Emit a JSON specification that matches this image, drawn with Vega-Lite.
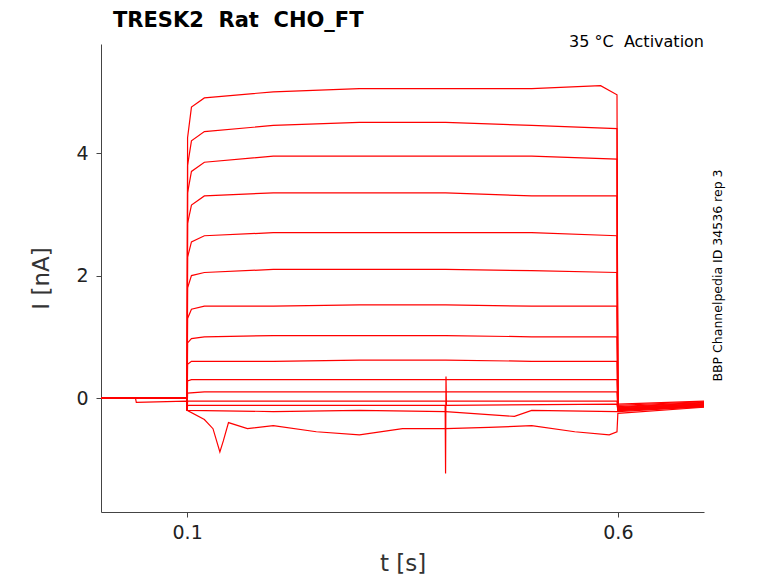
{
"$schema":"https://vega.github.io/schema/vega-lite/v6.json",
"width":603,"height":468,
"autosize":{"type":"none"},
"padding":{"left":101,"top":44,"right":74,"bottom":71},
"background":"white",
"config":{"view":{"stroke":null},"font":"DejaVu Sans"},
"datasets":{"d":[
{"s":1,"t":0,"i":0},{"s":1,"t":0.0995,"i":0},{"s":1,"t":0.1,"i":-0.2},{"s":1,"t":0.1005,"i":4.25},{"s":1,"t":0.105,"i":4.75},{"s":1,"t":0.12,"i":4.9},{"s":1,"t":0.2,"i":5.0},{"s":1,"t":0.3,"i":5.05},{"s":1,"t":0.4,"i":5.05},{"s":1,"t":0.5,"i":5.05},{"s":1,"t":0.58,"i":5.1},{"s":1,"t":0.599,"i":4.95},{"s":1,"t":0.6,"i":-0.1},{"s":1,"t":0.7,"i":-0.05},
{"s":2,"t":0,"i":0},{"s":2,"t":0.0995,"i":0},{"s":2,"t":0.1,"i":-0.2},{"s":2,"t":0.1005,"i":3.8},{"s":2,"t":0.105,"i":4.2},{"s":2,"t":0.12,"i":4.35},{"s":2,"t":0.2,"i":4.45},{"s":2,"t":0.3,"i":4.5},{"s":2,"t":0.4,"i":4.5},{"s":2,"t":0.5,"i":4.45},{"s":2,"t":0.599,"i":4.4},{"s":2,"t":0.6,"i":-0.12},{"s":2,"t":0.7,"i":-0.06},
{"s":3,"t":0,"i":0},{"s":3,"t":0.0995,"i":0},{"s":3,"t":0.1,"i":-0.2},{"s":3,"t":0.1005,"i":3.35},{"s":3,"t":0.105,"i":3.7},{"s":3,"t":0.12,"i":3.85},{"s":3,"t":0.2,"i":3.95},{"s":3,"t":0.3,"i":3.95},{"s":3,"t":0.4,"i":3.95},{"s":3,"t":0.5,"i":3.95},{"s":3,"t":0.599,"i":3.9},{"s":3,"t":0.6,"i":-0.14},{"s":3,"t":0.7,"i":-0.07},
{"s":4,"t":0,"i":0},{"s":4,"t":0.0995,"i":0},{"s":4,"t":0.1,"i":-0.2},{"s":4,"t":0.1005,"i":2.85},{"s":4,"t":0.105,"i":3.15},{"s":4,"t":0.12,"i":3.3},{"s":4,"t":0.2,"i":3.35},{"s":4,"t":0.3,"i":3.35},{"s":4,"t":0.4,"i":3.35},{"s":4,"t":0.5,"i":3.3},{"s":4,"t":0.599,"i":3.3},{"s":4,"t":0.6,"i":-0.15},{"s":4,"t":0.7,"i":-0.08},
{"s":5,"t":0,"i":0},{"s":5,"t":0.0995,"i":0},{"s":5,"t":0.1,"i":-0.2},{"s":5,"t":0.1005,"i":2.3},{"s":5,"t":0.105,"i":2.55},{"s":5,"t":0.12,"i":2.65},{"s":5,"t":0.2,"i":2.7},{"s":5,"t":0.3,"i":2.7},{"s":5,"t":0.4,"i":2.7},{"s":5,"t":0.5,"i":2.7},{"s":5,"t":0.599,"i":2.65},{"s":5,"t":0.6,"i":-0.16},{"s":5,"t":0.7,"i":-0.09},
{"s":6,"t":0,"i":0},{"s":6,"t":0.0995,"i":0},{"s":6,"t":0.1,"i":-0.2},{"s":6,"t":0.1005,"i":1.8},{"s":6,"t":0.105,"i":2.0},{"s":6,"t":0.12,"i":2.05},{"s":6,"t":0.2,"i":2.1},{"s":6,"t":0.3,"i":2.1},{"s":6,"t":0.4,"i":2.1},{"s":6,"t":0.5,"i":2.08},{"s":6,"t":0.599,"i":2.05},{"s":6,"t":0.6,"i":-0.17},{"s":6,"t":0.7,"i":-0.1},
{"s":7,"t":0,"i":0},{"s":7,"t":0.0995,"i":0},{"s":7,"t":0.1,"i":-0.2},{"s":7,"t":0.1005,"i":1.3},{"s":7,"t":0.105,"i":1.45},{"s":7,"t":0.12,"i":1.5},{"s":7,"t":0.2,"i":1.5},{"s":7,"t":0.3,"i":1.52},{"s":7,"t":0.4,"i":1.52},{"s":7,"t":0.5,"i":1.5},{"s":7,"t":0.599,"i":1.5},{"s":7,"t":0.6,"i":-0.18},{"s":7,"t":0.7,"i":-0.1},
{"s":8,"t":0,"i":0},{"s":8,"t":0.0995,"i":0},{"s":8,"t":0.1,"i":-0.2},{"s":8,"t":0.1005,"i":0.9},{"s":8,"t":0.105,"i":0.97},{"s":8,"t":0.12,"i":1.0},{"s":8,"t":0.2,"i":1.02},{"s":8,"t":0.3,"i":1.02},{"s":8,"t":0.4,"i":1.02},{"s":8,"t":0.5,"i":1.0},{"s":8,"t":0.599,"i":1.0},{"s":8,"t":0.6,"i":-0.18},{"s":8,"t":0.7,"i":-0.11},
{"s":9,"t":0,"i":0},{"s":9,"t":0.0995,"i":0},{"s":9,"t":0.1,"i":-0.2},{"s":9,"t":0.1005,"i":0.55},{"s":9,"t":0.105,"i":0.6},{"s":9,"t":0.12,"i":0.6},{"s":9,"t":0.2,"i":0.6},{"s":9,"t":0.3,"i":0.62},{"s":9,"t":0.4,"i":0.62},{"s":9,"t":0.5,"i":0.6},{"s":9,"t":0.599,"i":0.6},{"s":9,"t":0.6,"i":-0.19},{"s":9,"t":0.7,"i":-0.12},
{"s":10,"t":0,"i":0},{"s":10,"t":0.0995,"i":0},{"s":10,"t":0.1,"i":-0.2},{"s":10,"t":0.1005,"i":0.28},{"s":10,"t":0.105,"i":0.3},{"s":10,"t":0.12,"i":0.3},{"s":10,"t":0.2,"i":0.3},{"s":10,"t":0.3,"i":0.3},{"s":10,"t":0.4,"i":0.3},{"s":10,"t":0.5,"i":0.3},{"s":10,"t":0.599,"i":0.3},{"s":10,"t":0.6,"i":-0.19},{"s":10,"t":0.7,"i":-0.12},
{"s":11,"t":0,"i":0},{"s":11,"t":0.0995,"i":0},{"s":11,"t":0.1,"i":-0.2},{"s":11,"t":0.1005,"i":0.08},{"s":11,"t":0.12,"i":0.1},{"s":11,"t":0.3,"i":0.1},{"s":11,"t":0.5,"i":0.1},{"s":11,"t":0.599,"i":0.1},{"s":11,"t":0.6,"i":-0.2},{"s":11,"t":0.7,"i":-0.13},
{"s":12,"t":0,"i":0},{"s":12,"t":0.0995,"i":0},{"s":12,"t":0.1,"i":-0.2},{"s":12,"t":0.1005,"i":-0.05},{"s":12,"t":0.2,"i":-0.05},{"s":12,"t":0.4,"i":-0.05},{"s":12,"t":0.599,"i":-0.05},{"s":12,"t":0.6,"i":-0.2},{"s":12,"t":0.7,"i":-0.13},
{"s":13,"t":0,"i":0},{"s":13,"t":0.0995,"i":0},{"s":13,"t":0.1,"i":-0.2},{"s":13,"t":0.1005,"i":-0.12},{"s":13,"t":0.2,"i":-0.12},{"s":13,"t":0.3995,"i":-0.12},{"s":13,"t":0.4,"i":-1.23},{"s":13,"t":0.4005,"i":0.35},{"s":13,"t":0.401,"i":-0.12},{"s":13,"t":0.599,"i":-0.1},{"s":13,"t":0.6,"i":-0.2},{"s":13,"t":0.7,"i":-0.14},
{"s":14,"t":0,"i":0},{"s":14,"t":0.0995,"i":0},{"s":14,"t":0.1,"i":-0.2},{"s":14,"t":0.1005,"i":-0.2},{"s":14,"t":0.2,"i":-0.22},{"s":14,"t":0.3,"i":-0.2},{"s":14,"t":0.4,"i":-0.22},{"s":14,"t":0.48,"i":-0.3},{"s":14,"t":0.5,"i":-0.2},{"s":14,"t":0.599,"i":-0.22},{"s":14,"t":0.6,"i":-0.22},{"s":14,"t":0.7,"i":-0.14},
{"s":15,"t":0,"i":0},{"s":15,"t":0.04,"i":0},{"s":15,"t":0.041,"i":-0.07},{"s":15,"t":0.0995,"i":-0.05},{"s":15,"t":0.1,"i":-0.2},{"s":15,"t":0.12,"i":-0.35},{"s":15,"t":0.13,"i":-0.5},{"s":15,"t":0.138,"i":-0.88},{"s":15,"t":0.142,"i":-0.7},{"s":15,"t":0.148,"i":-0.4},{"s":15,"t":0.17,"i":-0.5},{"s":15,"t":0.2,"i":-0.45},{"s":15,"t":0.25,"i":-0.55},{"s":15,"t":0.3,"i":-0.6},{"s":15,"t":0.35,"i":-0.5},{"s":15,"t":0.4,"i":-0.5},{"s":15,"t":0.45,"i":-0.48},{"s":15,"t":0.5,"i":-0.45},{"s":15,"t":0.55,"i":-0.55},{"s":15,"t":0.59,"i":-0.6},{"s":15,"t":0.599,"i":-0.55},{"s":15,"t":0.6,"i":-0.25},{"s":15,"t":0.7,"i":-0.15}
],
"txt":[{"x":0.7,"y":5.78,"label":"35 °C\u00a0\u00a0Activation"}]},
"layer":[
{"data":{"name":"d"},"mark":{"type":"line","color":"red","strokeWidth":1.2,"clip":true},
"encoding":{
"x":{"field":"t","type":"quantitative","scale":{"domain":[0,0.7],"nice":false},"axis":{"values":[0.1,0.6],"format":".1f","grid":false,"title":"t [s]","titleFontSize":23,"titleFontWeight":"normal","labelFontSize":19,"titleColor":"#333","labelColor":"#222","domainColor":"#444","tickColor":"#444","labelPadding":6,"titlePadding":10}},
"y":{"field":"i","type":"quantitative","scale":{"domain":[-1.86,5.78],"nice":false,"zero":false},"axis":{"values":[0,2,4],"format":"d","grid":false,"title":"I [nA]","titleFontSize":23,"titleFontWeight":"normal","labelFontSize":19,"titleColor":"#333","labelColor":"#222","domainColor":"#444","tickColor":"#444","labelPadding":8,"titlePadding":22}},
"detail":{"field":"s","type":"nominal"},
"order":{"field":"t","type":"quantitative"}}},
{"data":{"name":"txt"},"mark":{"type":"text","align":"right","baseline":"bottom","fontSize":16,"dy":6,"color":"black"},
"encoding":{"x":{"field":"x","type":"quantitative"},"y":{"field":"y","type":"quantitative"},"text":{"field":"label"}}},
{"data":{"values":[{"x":0,"y":5.78,"label":"TRESK2\u00a0\u00a0Rat\u00a0\u00a0CHO_FT"}]},"mark":{"type":"text","align":"left","baseline":"alphabetic","fontSize":21,"fontWeight":"bold","dx":12,"dy":-17,"color":"black"},
"encoding":{"x":{"field":"x","type":"quantitative"},"y":{"field":"y","type":"quantitative"},"text":{"field":"label"}}},
{"data":{"values":[{"x":0.7,"y":2,"label":"BBP Channelpedia ID 34536 rep 3"}]},"mark":{"type":"text","angle":270,"align":"center","baseline":"middle","fontSize":12.5,"dy":14,"color":"black"},
"encoding":{"x":{"field":"x","type":"quantitative"},"y":{"field":"y","type":"quantitative"},"text":{"field":"label"}}}
]}
